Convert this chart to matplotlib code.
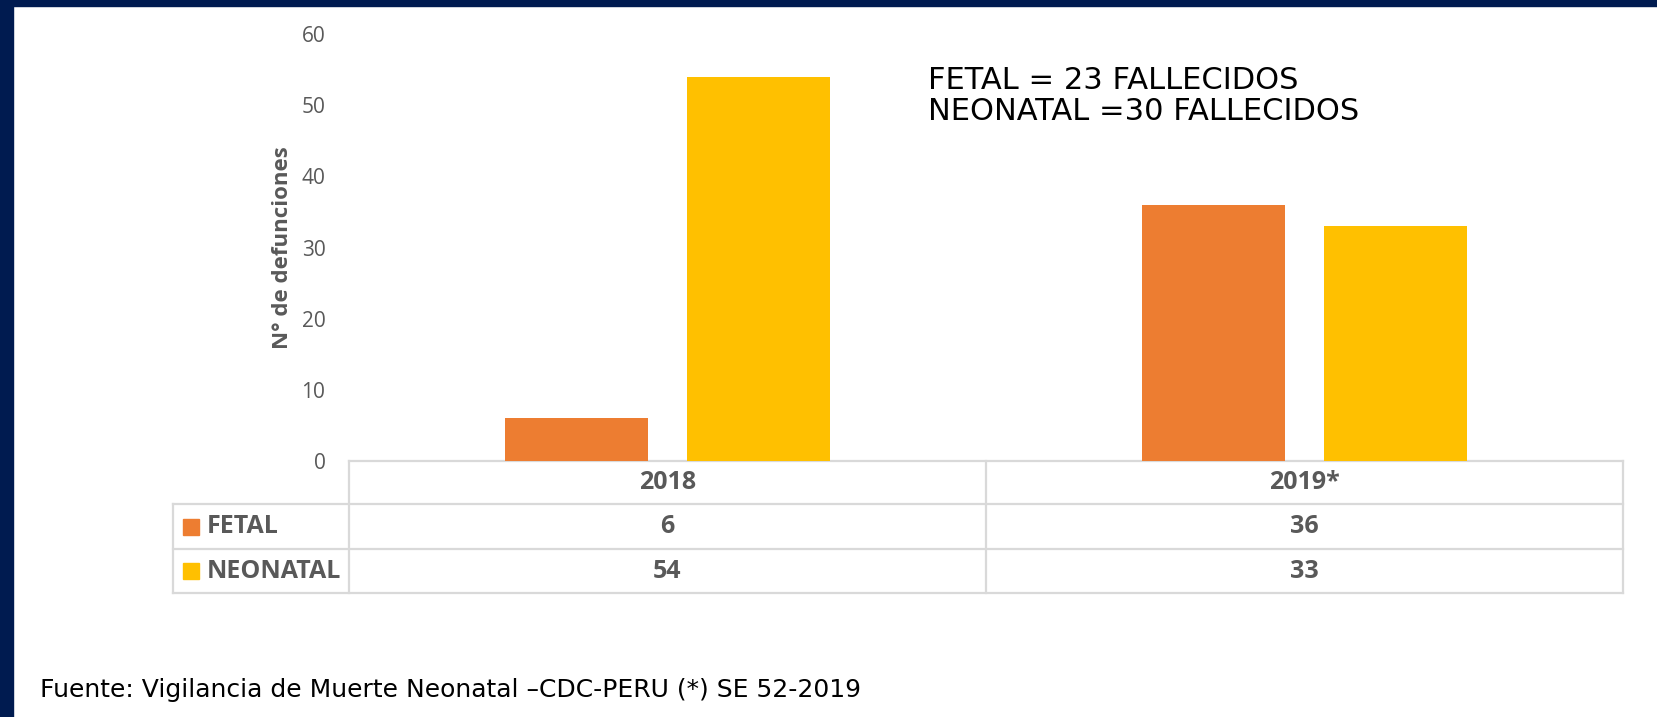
import numpy as np
import matplotlib.pyplot as plt
from matplotlib.patches import Rectangle

# data
years = ['2018', '2019*']
series = ['FETAL', 'NEONATAL']
fetal = [6, 36]
neonatal = [54, 33]
colors = ['#ED7D31', '#FFC000']
yticks = [0, 10, 20, 30, 40, 50, 60]
note = 'FETAL = 23 FALLECIDOS\nNEONATAL =30 FALLECIDOS'
fuente = 'Fuente: Vigilancia de Muerte Neonatal \u2013CDC-PERU (*) SE 52-2019'

W, H = 1657, 717
fig = plt.figure(figsize=(W / 100, H / 100), dpi=100)
fig.patch.set_facecolor('white')

gray = '#595959'
lgray = '#D9D9D9'
cfont = ['Open Sans', 'DejaVu Sans']

# navy frame (left and top)
bg = fig.add_axes([0, 0, 1, 1])
bg.set_xlim(0, W)
bg.set_ylim(H, 0)
bg.axis('off')
bg.add_patch(Rectangle((0, 0), 13, H, color='#001B50', zorder=0))
bg.add_patch(Rectangle((0, 0), W, 6, color='#001B50', zorder=0))

# plot area in pixel terms
x0, x1 = 349, 1623
ytop, y0 = 34, 461
ax = fig.add_axes([x0 / W, (H - y0) / H, (x1 - x0) / W, (y0 - ytop) / H])
ax.set_facecolor('none')
ax.set_xlim(0, 2)
ax.set_ylim(0, 60)
for s in ax.spines.values():
    s.set_visible(False)
ax.set_xticks([])
ax.set_yticks(yticks)
ax.tick_params(axis='y', length=0, pad=17, labelsize=15, labelcolor=gray)
for lb in ax.get_yticklabels():
    lb.set_family(cfont)
ax.set_ylabel('N° de defunciones', fontsize=16, fontweight='bold', color=gray,
              family=cfont)
ax.yaxis.set_label_coords((293 - x0) / (x1 - x0), 0.5)

x = np.arange(len(years)) + 0.5
bw = 0.225
gap = 0.061
ax.bar(x - (bw + gap) / 2, fetal, bw, color=colors[0])
ax.bar(x + (bw + gap) / 2, neonatal, bw, color=colors[1])

ax.text((928 - x0) / (x1 - x0), (y0 - 96) / (y0 - ytop), note,
        transform=ax.transAxes, fontsize=22, family='DejaVu Sans',
        color='black', va='center', ha='left', linespacing=1.08)

# data table below the axis
tl = 173
rows = [461, 504, 549, 593]
cols = [x1 - (x1 - x0) * k / 2 for k in range(3)][::-1]
lw = 1.6
bg.plot([x0, x1], [rows[0], rows[0]], color=lgray, lw=lw)
for r in rows[1:]:
    bg.plot([tl, x1], [r, r], color=lgray, lw=lw)
bg.plot([tl, tl], [rows[1], rows[3]], color=lgray, lw=lw)
for c in cols:
    bg.plot([c, c], [rows[0], rows[3]], color=lgray, lw=lw)

for i, yr in enumerate(years):
    cx = (cols[i] + cols[i + 1]) / 2
    bg.text(cx, (rows[0] + rows[1]) / 2, yr, ha='center', va='center',
            fontsize=18, fontweight='bold', color=gray, family=cfont)
    for j, vals in enumerate([fetal, neonatal]):
        bg.text(cx, (rows[j + 1] + rows[j + 2]) / 2, str(vals[i]), ha='center',
                va='center', fontsize=18, fontweight='bold', color=gray, family=cfont)

for j, name in enumerate(series):
    cy = (rows[j + 1] + rows[j + 2]) / 2
    bg.add_patch(Rectangle((183, cy - 8), 16, 16, color=colors[j]))
    bg.text(207, cy, name, ha='left', va='center', fontsize=18,
            fontweight='bold', color=gray, family=cfont)

bg.text(40, 697, fuente, ha='left', va='baseline', fontsize=18,
        family='DejaVu Sans', color='black')

fig.savefig('out.png', dpi=100, facecolor='white')
